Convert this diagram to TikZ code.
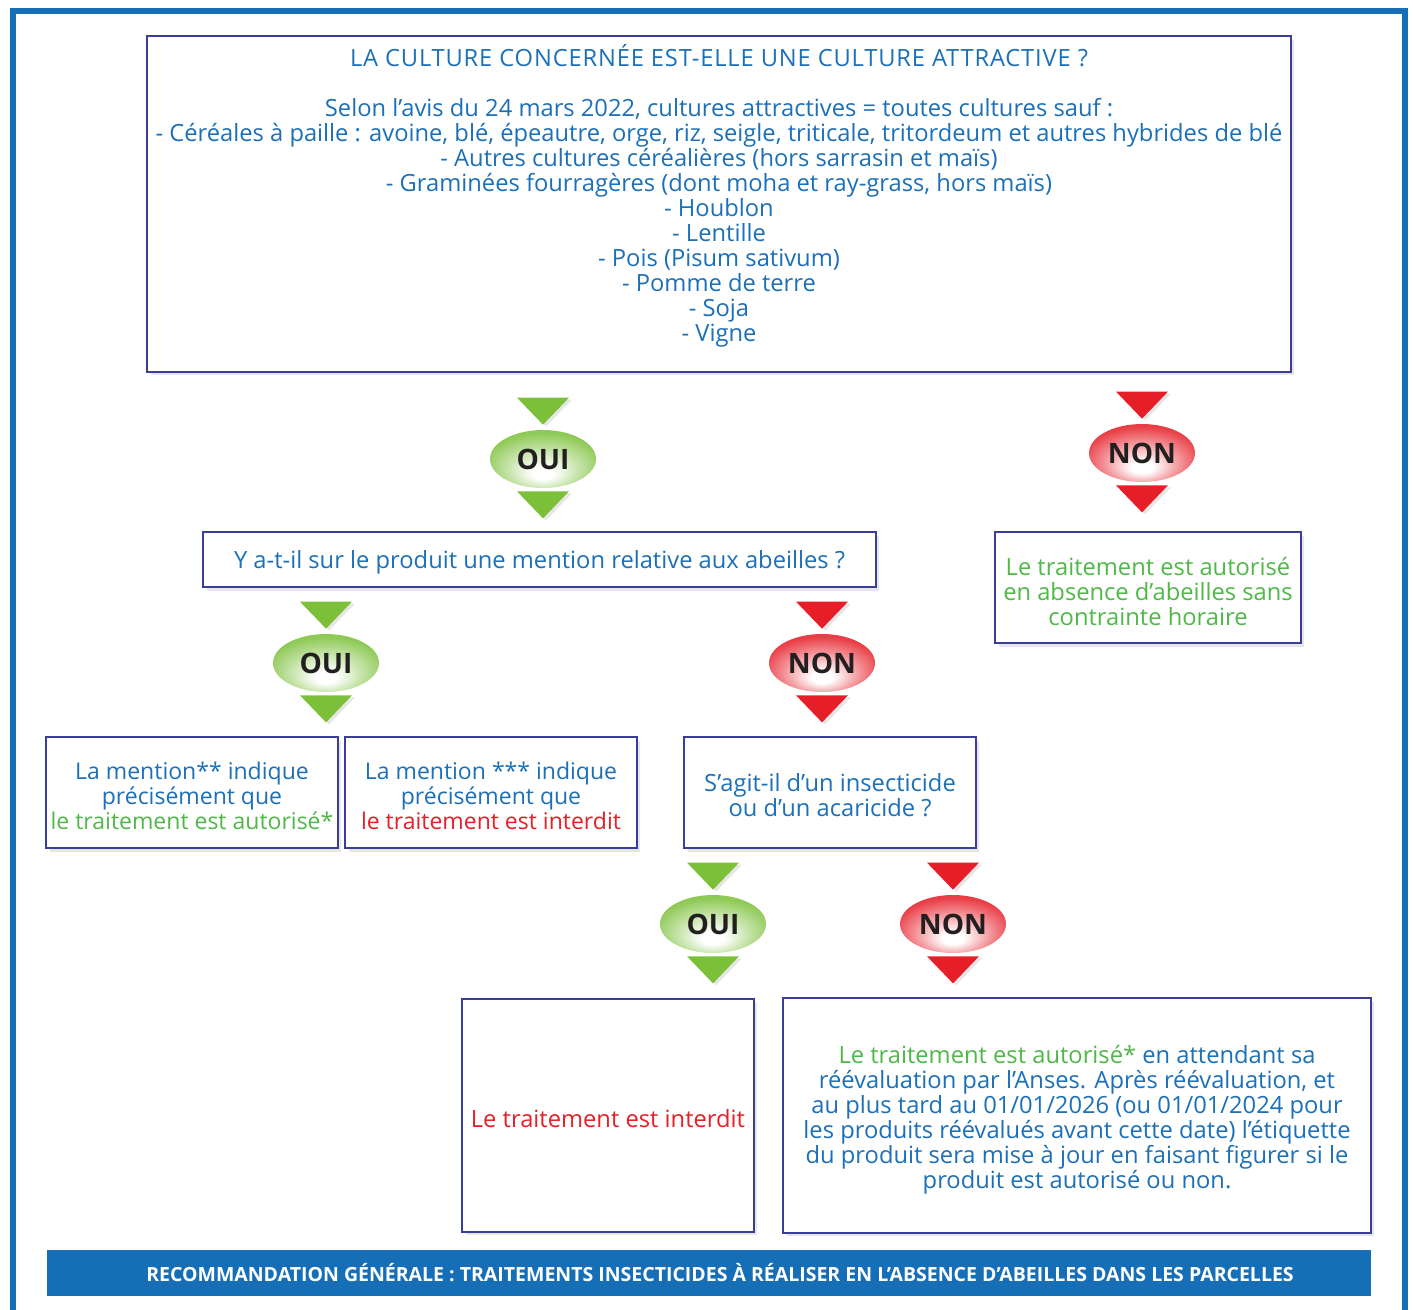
\documentclass[tikz,border=0pt]{standalone}
\usepackage{fontspec}
\setmainfont{Open Sans}
\usetikzlibrary{calc,shadows,shapes.geometric}

\definecolor{cadre}{RGB}{22,111,182}
\definecolor{bleu}{RGB}{28,112,184}
\definecolor{bord}{RGB}{58,62,152}
\definecolor{vert}{RGB}{80,184,72}
\definecolor{rouge}{RGB}{228,32,40}
\definecolor{vertfleche}{RGB}{124,192,58}
\definecolor{rougefleche}{RGB}{230,30,40}
\definecolor{noir}{RGB}{35,31,32}

\pgfdeclareradialshading{bulleoui}{\pgfpoint{0bp}{-14bp}}{color(0bp)=(white); color(5bp)=(white); color(28bp)=(vertfleche!85); color(46bp)=(vertfleche)}
\pgfdeclareradialshading{bullenon}{\pgfpoint{0bp}{-14bp}}{color(0bp)=(white); color(5bp)=(white); color(28bp)=(rougefleche!85); color(46bp)=(rougefleche)}

\tikzset{
    boite/.style={draw=bord, line width=0.8pt, fill=white, inner sep=0pt,
        drop shadow={shadow xshift=0.7mm, shadow yshift=-0.7mm, opacity=0.2}},
    texte/.style={text=bleu, align=center, inner sep=0pt,
        font=\fontsize{13.5}{14.2}\selectfont},
    petit texte/.style={texte, font=\fontsize{13.1}{14.2}\selectfont},
    bulle/.style={ellipse, minimum width=2.12cm, minimum height=1.16cm, inner sep=0pt,
        text=noir, font=\fontsize{16}{16}\selectfont\bfseries},
    oui/.style={bulle, shade, shading=bulleoui},
    non/.style={bulle, shade, shading=bullenon},
    oui fleche/.style={fill=vertfleche,
        drop shadow={shadow xshift=0.6mm, shadow yshift=-0.4mm, opacity=0.2}},
    non fleche/.style={fill=rougefleche,
        drop shadow={shadow xshift=0.6mm, shadow yshift=-0.4mm, opacity=0.2}},
}

% bulle OUI / NON avec ses deux fleches
\newcommand{\reponse}[4]{%
    \node[#3] (#1) at (#2) {#4};
    \path[#3 fleche] ($(#1.north)+(-26,-32)$) -- ($(#1.north)+(26,-32)$) -- ($(#1.north)+(0,-5)$) -- cycle;
    \path[#3 fleche] ($(#1.south)+(-26,3)$) -- ($(#1.south)+(26,3)$) -- ($(#1.south)+(0,30)$) -- cycle;
}

\begin{document}
\begin{tikzpicture}[x=0.02cm, y=-0.02cm]

    \useasboundingbox (0,0) rectangle (1413,1309);

    % cadre exterieur
    \draw[cadre, line width=0.12cm] (13,1340) -- (13,11) -- (1405,11) -- (1405,1340);

    % question de depart
    \node[boite, minimum width=22.88cm, minimum height=6.72cm] (culture) at (719,204) {};
    \node[texte] (culture texte) at ($(culture.center)+(0,-8)$) {%
        {\addfontfeatures{LetterSpace=3.5}LA CULTURE CONCERNÉE EST-ELLE UNE CULTURE ATTRACTIVE ?}\\[14.2pt]
        Selon l’avis du 24 mars 2022, cultures attractives = toutes cultures sauf :\\
        - Céréales à paille : avoine, blé, épeautre, orge, riz, seigle, triticale, tritordeum et autres hybrides de blé\\
        - Autres cultures céréalières (hors sarrasin et maïs)\\
        - Graminées fourragères (dont moha et ray-grass, hors maïs)\\
        - Houblon\\
        - Lentille\\
        - Pois (Pisum sativum)\\
        - Pomme de terre\\
        - Soja\\
        - Vigne};

    \reponse{oui1}{543,459}{oui}{OUI}
    \reponse{non1}{1142,453}{non}{NON}

    \node[boite, minimum width=13.46cm, minimum height=1.1cm] (mention) at (539.5,559.5) {};
    \node[texte] at ($(mention.center)+(0,3)$) {Y a-t-il sur le produit une mention relative aux abeilles ?};

    \node[boite, minimum width=6.12cm, minimum height=2.22cm] (sans abeilles) at (1148,587.5) {};
    \node[texte, text=vert] at ($(sans abeilles.center)+(0,4)$) {Le traitement est autorisé\\en absence d’abeilles sans\\contrainte horaire};

    \reponse{oui2}{326,663}{oui}{OUI}
    \reponse{non2}{822,663}{non}{NON}

    \node[boite, minimum width=5.84cm, minimum height=2.22cm] (autorise) at (192,792.5) {};
    \node[petit texte] at ($(autorise.center)+(0,3)$) {La mention** indique\\précisément que\\\textcolor{vert}{le traitement est autorisé*}};

    \node[boite, minimum width=5.84cm, minimum height=2.22cm] (interdit) at (491,792.5) {};
    \node[petit texte] at ($(interdit.center)+(0,3)$) {La mention *** indique\\précisément que\\\textcolor{rouge}{le traitement est interdit}};

    \node[boite, minimum width=5.84cm, minimum height=2.22cm] (insecticide) at (830,792.5) {};
    \node[texte] at ($(insecticide.center)+(0,3)$) {S’agit-il d’un insecticide\\ou d’un acaricide ?};

    \reponse{oui3}{713,924}{oui}{OUI}
    \reponse{non3}{953,924}{non}{NON}

    \node[boite, minimum width=5.84cm, minimum height=4.66cm] (interdit final) at (608,1115.5) {};
    \node[texte, text=rouge] at ($(interdit final.center)+(0,3)$) {Le traitement est interdit};

    \node[boite, minimum width=11.76cm, minimum height=4.7cm] (reevaluation) at (1077,1115.5) {};
    \node[texte] at ($(reevaluation.center)+(0,4)$) {\textcolor{vert}{Le traitement est autorisé*} en attendant sa\\
        réévaluation par l’Anses. Après réévaluation, et\\
        au plus tard au 01/01/2026 (ou 01/01/2024 pour\\
        les produits réévalués avant cette date) l’étiquette\\
        du produit sera mise à jour en faisant figurer si le\\
        produit est autorisé ou non.};

    % bandeau du bas
    \node[fill=cadre, minimum width=26.48cm, minimum height=0.92cm, inner sep=0pt] (recommandation) at (709,1273) {};
    \node[text=white, inner sep=0pt, font=\fontsize{11.1}{12}\selectfont\bfseries]
        at ($(recommandation.center)+(11,0)$)
        {RECOMMANDATION GÉNÉRALE : TRAITEMENTS INSECTICIDES À RÉALISER EN L’ABSENCE D’ABEILLES DANS LES PARCELLES};

\end{tikzpicture}
\end{document}
